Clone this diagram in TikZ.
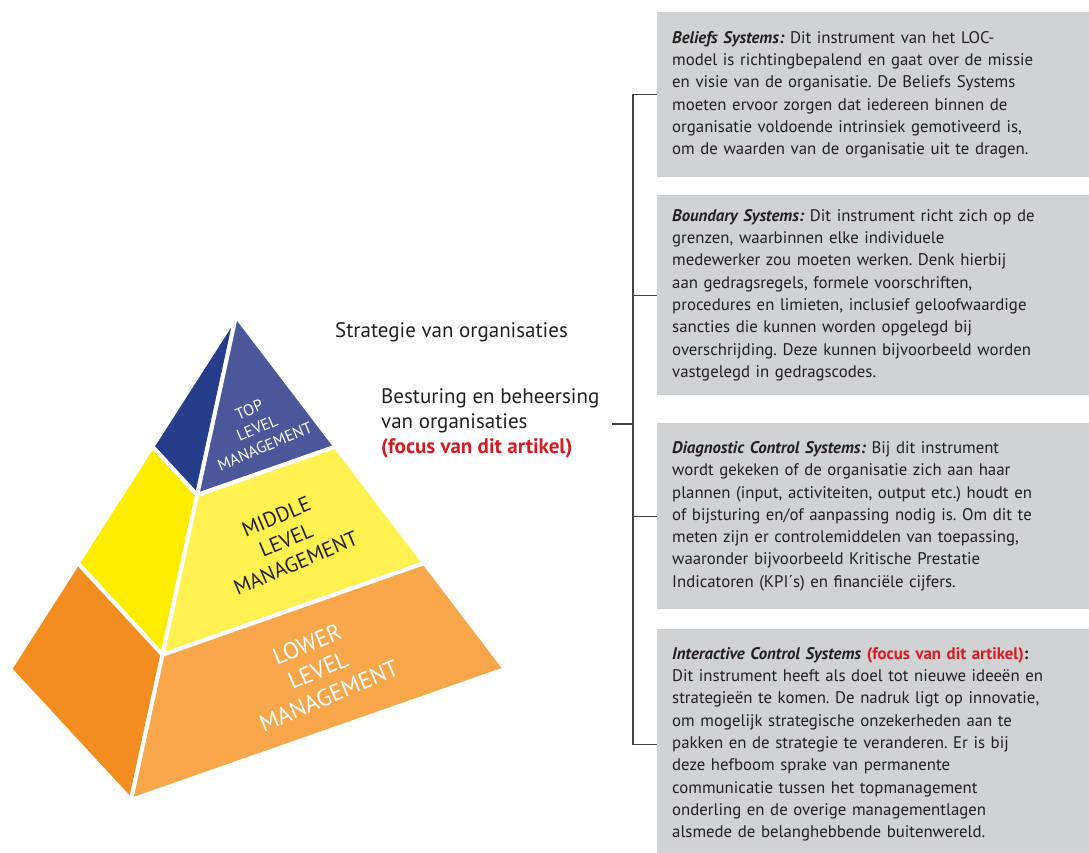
\documentclass[tikz,border=0pt]{standalone}
\usepackage{fontspec}
\setmainfont{PT Sans}
\usetikzlibrary{positioning,calc}
\definecolor{topdark}{RGB}{38,61,140}
\definecolor{topfront}{RGB}{75,87,155}
\definecolor{midleft}{RGB}{255,237,0}
\definecolor{midfront}{RGB}{255,242,80}
\definecolor{lowleft}{RGB}{244,141,32}
\definecolor{lowfront}{RGB}{247,166,74}
\definecolor{boxgray}{RGB}{209,210,212}
\definecolor{focusred}{RGB}{215,25,32}
\definecolor{inkgray}{RGB}{35,31,32}
\tikzset{
  face/.style={draw=white, line width=4pt, line join=round},
  tierlabel/.style={align=center, rotate=23, inner sep=0pt},
  infobox/.style={fill=boxgray, anchor=north west, text width=415pt,
    inner xsep=15pt, inner ysep=0pt, align=left, text=inkgray,
    font=\fontsize{16.8}{22.3}\selectfont},
  sidelabel/.style={align=left, text=inkgray, inner sep=0pt,
    font=\fontsize{21}{25}\selectfont},
  bracket/.style={draw=inkgray!85, line width=1.3pt}
}
\newcommand{\hd}[1]{\textbf{\textit{#1}}}
\newcommand{\focus}[1]{\textcolor{focusred}{\textbf{#1}}}
\frenchspacing
\begin{document}
\begin{tikzpicture}[x=1pt,y=-1pt]
\useasboundingbox (0,0) rectangle (1089,853);

% pyramid
\coordinate (apex) at (236,316);
\coordinate (lc) at (10,669);
\coordinate (fc) at (131,800);
\coordinate (rc) at (505,669);
\foreach \c in {lc,fc,rc} {
  \coordinate (\c1) at ($(apex)!0.37!(\c)$);
  \coordinate (\c2) at ($(apex)!0.70!(\c)$);
}
\draw[face, fill=topdark] (apex) -- (lc1) -- (fc1) -- cycle;
\draw[face, fill=topfront] (apex) -- (fc1) -- (rc1) -- cycle;
\draw[face, fill=midleft] (lc1) -- (lc2) -- (fc2) -- (fc1) -- cycle;
\draw[face, fill=midfront] (fc1) -- (fc2) -- (rc2) -- (rc1) -- cycle;
\draw[face, fill=lowleft] (lc2) -- (lc) -- (fc) -- (fc2) -- cycle;
\draw[face, fill=lowfront] (fc2) -- (fc) -- (rc) -- (rc2) -- cycle;

\node[tierlabel, text=white, font=\fontsize{16}{20}\selectfont] (toplab) at (257,428) {TOP\\LEVEL\\MANAGEMENT};
\node[tierlabel, text=inkgray, font=\fontsize{21}{25}\selectfont] (midlab) at (286,540) {MIDDLE\\LEVEL\\MANAGEMENT};
\node[tierlabel, text=white, font=\fontsize{23.5}{28}\selectfont] (lowlab) at (318,670) {LOWER\\LEVEL\\MANAGEMENT};

% side labels
\node[sidelabel, anchor=west] (strategy) at (335,332) {Strategie van organisaties};
\node[sidelabel, anchor=north west] (control) at (381,388) {Besturing en beheersing\\van organisaties\\\focus{(focus van dit artikel)}};

% LOC levers
\node[infobox, minimum height=165pt] (beliefs) at (657,12) {%
\hd{Beliefs Systems:} Dit instrument van het LOC-\\
model is richtingbepalend en gaat over de missie\\
en visie van de organisatie. De Beliefs Systems\\
moeten ervoor zorgen dat iedereen binnen de\\
organisatie voldoende intrinsiek gemotiveerd is,\\
om de waarden van de organisatie uit te dragen.};
\node[infobox, minimum height=200pt] (boundary) at (657,195) {%
\hd{Boundary Systems:} Dit instrument richt zich op de\\
grenzen, waarbinnen elke individuele\\
medewerker zou moeten werken. Denk hierbij\\
aan gedragsregels, formele voorschriften,\\
procedures en limieten, inclusief geloofwaardige\\
sancties die kunnen worden opgelegd bij\\
overschrijding. Deze kunnen bijvoorbeeld worden\\
vastgelegd in gedragscodes.};
\node[infobox, minimum height=186pt] (diagnostic) at (657,423) {%
\hd{Diagnostic Control Systems:} Bij dit instrument\\
wordt gekeken of de organisatie zich aan haar\\
plannen (input, activiteiten, output etc.) houdt en\\
of bijsturing en/of aanpassing nodig is. Om dit te\\
meten zijn er controlemiddelen van toepassing,\\
waaronder bijvoorbeeld Kritische Prestatie\\
Indicatoren (KPI´s) en financiële cijfers.};
\node[infobox, minimum height=230pt] (interactive) at (657,629) {%
\hd{Interactive Control Systems} \focus{(focus van dit artikel)}\textbf{:}\\
Dit instrument heeft als doel tot nieuwe ideeën en\\
strategieën te komen. De nadruk ligt op innovatie,\\
om mogelijk strategische onzekerheden aan te\\
pakken en de strategie te veranderen. Er is bij\\
deze hefboom sprake van permanente\\
communicatie tussen het topmanagement\\
onderling en de overige managementlagen\\
alsmede de belanghebbende buitenwereld.};

% bracket
\coordinate (hub) at (633,424);
\coordinate (tickend) at (612,424);
\draw[bracket] (beliefs.west) -- ++(-24,0) |- (interactive.west);
\draw[bracket] (boundary.west) -- ++(-24,0);
\draw[bracket] (diagnostic.west) -- ++(-24,0);
\draw[bracket] (hub) -- (tickend);
\end{tikzpicture}
\end{document}
